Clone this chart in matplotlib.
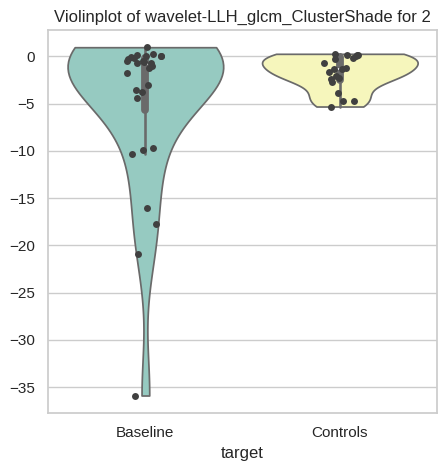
import numpy as np
import pandas as pd
import matplotlib
matplotlib.use("Agg")
import matplotlib.pyplot as plt
import seaborn as sns

groups = ["Baseline", "Controls"]

baseline_vals = [0.98, 0.21, 0.2, 0.1, 0.03, 0.0, -0.1, -0.2, -0.3, -0.5,
                 -0.5, -0.6, -0.66, -0.7, -1.0, -1.2, -1.8, -3.06, -3.5, -3.8,
                 -4.4, -9.65, -9.9, -10.3, -16.0, -17.7, -20.9, -35.9]
controls_vals = [0.28, 0.2, 0.14, 0.14, 0.1, -0.14, -0.24, -0.74, -1.26, -1.37,
                 -1.37, -1.6, -2.07, -2.25, -2.4, -2.7, -3.9, -4.7, -4.7, -5.3]

df = pd.DataFrame({
    "target": [groups[0]] * len(baseline_vals) + [groups[1]] * len(controls_vals),
    "value": baseline_vals + controls_vals,
})

sns.set_theme(style="whitegrid")
plt.rcParams['font.family'] = ['Liberation Sans', 'DejaVu Sans']
np.random.seed(3)

fig, ax = plt.subplots(figsize=(4.46, 4.73), dpi=100)
sns.violinplot(data=df, x="target", y="value", hue="target", palette="Set3",
               cut=0, density_norm="width", legend=False, ax=ax)
sns.stripplot(data=df, x="target", y="value", color=".25", jitter=0.1,
              size=5, ax=ax)

ax.set_title("Violinplot of wavelet-LLH_glcm_ClusterShade for 2")
ax.set_ylabel("")
ax.set_xlabel("target")

fig.subplots_adjust(left=0.108, right=0.98, top=0.937, bottom=0.127)
fig.savefig("out.png", dpi=100)
